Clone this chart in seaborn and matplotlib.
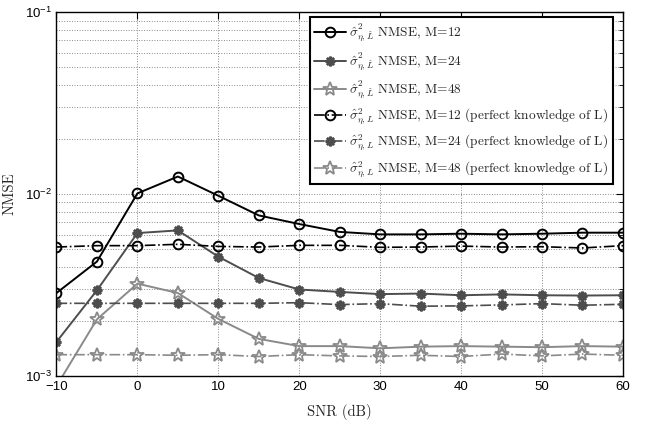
import matplotlib
matplotlib.use("Agg")
import matplotlib.pyplot as plt
import seaborn as sns
import pandas as pd
import numpy as np

snr = [-10, -5, 0, 5, 10, 15, 20, 25, 30, 35, 40, 45, 50, 55, 60]
m12 = [2.86e-3, 4.26e-3, 1.01e-2, 1.25e-2, 9.8e-3, 7.64e-3, 6.85e-3, 6.2e-3,
       6.01e-3, 6.01e-3, 6.06e-3, 6.01e-3, 6.06e-3, 6.14e-3, 6.14e-3]
m24 = [1.54e-3, 2.96e-3, 6.11e-3, 6.32e-3, 4.53e-3, 3.46e-3, 2.99e-3, 2.90e-3,
       2.82e-3, 2.84e-3, 2.78e-3, 2.81e-3, 2.78e-3, 2.77e-3, 2.78e-3]
m48 = [8.8e-4, 2.05e-3, 3.22e-3, 2.86e-3, 2.06e-3, 1.60e-3, 1.46e-3, 1.46e-3,
       1.42e-3, 1.45e-3, 1.46e-3, 1.45e-3, 1.44e-3, 1.46e-3, 1.45e-3]
m12p = [5.12e-3, 5.21e-3, 5.21e-3, 5.30e-3, 5.16e-3, 5.12e-3, 5.23e-3, 5.23e-3,
        5.10e-3, 5.12e-3, 5.18e-3, 5.12e-3, 5.14e-3, 5.06e-3, 5.21e-3]
m24p = [2.51e-3, 2.51e-3, 2.51e-3, 2.51e-3, 2.51e-3, 2.51e-3, 2.53e-3, 2.47e-3,
        2.50e-3, 2.42e-3, 2.43e-3, 2.46e-3, 2.50e-3, 2.45e-3, 2.48e-3]
m48p = [1.31e-3, 1.31e-3, 1.31e-3, 1.30e-3, 1.31e-3, 1.28e-3, 1.31e-3, 1.29e-3,
        1.28e-3, 1.30e-3, 1.28e-3, 1.32e-3, 1.29e-3, 1.32e-3, 1.30e-3]

labels = [
    r'$\hat{\sigma}^2_{\eta,\hat{L}}$ NMSE, M=12',
    r'$\hat{\sigma}^2_{\eta,\hat{L}}$ NMSE, M=24',
    r'$\hat{\sigma}^2_{\eta,\hat{L}}$ NMSE, M=48',
    r'$\hat{\sigma}^2_{\eta,L}$ NMSE, M=12 (perfect knowledge of L)',
    r'$\hat{\sigma}^2_{\eta,L}$ NMSE, M=24 (perfect knowledge of L)',
    r'$\hat{\sigma}^2_{\eta,L}$ NMSE, M=48 (perfect knowledge of L)',
]

sns.set_style("white")
plt.rcParams['font.family'] = ['Liberation Sans', 'DejaVu Sans']
plt.rcParams['mathtext.fontset'] = 'custom'
plt.rcParams['mathtext.rm'] = 'Liberation Sans'
plt.rcParams['mathtext.it'] = 'Liberation Sans:italic'
plt.rcParams['mathtext.bf'] = 'Liberation Sans:bold'

fig = plt.figure(figsize=(6.53, 4.25), dpi=100)
ax = fig.add_axes([0.0865, 0.1153, 0.954 - 0.0865, 0.971 - 0.1153])

asterisk = (8, 2, 0)
styles = [
    dict(color='black', marker='o', ls='-', ms=7, mew=1.4, lw=1.4),
    dict(color='#4d4d4d', marker=asterisk, ls='-', ms=7, mew=1.8, lw=1.4),
    dict(color='#8a8a8a', marker='*', ls='-', ms=10, mew=1.3, lw=1.4),
    dict(color='black', marker='o', ls='-.', ms=7, mew=1.4, lw=1.2),
    dict(color='#4d4d4d', marker=asterisk, ls='-.', ms=7, mew=1.8, lw=1.2),
    dict(color='#8a8a8a', marker='*', ls='-.', ms=10, mew=1.3, lw=1.2),
]
series = [m12, m24, m48, m12p, m24p, m48p]

for vals, lab, st in zip(series, labels, styles):
    df = pd.DataFrame({'SNR': snr, 'NMSE': vals})
    sns.lineplot(data=df, x='SNR', y='NMSE', ax=ax, label=lab,
                 color=st['color'], marker=st['marker'], linestyle=st['ls'],
                 markersize=st['ms'], markeredgewidth=st['mew'],
                 markerfacecolor='none', markeredgecolor=st['color'],
                 linewidth=st['lw'])

ax.set_yscale('log')
ax.set_xlim(-10, 60)
ax.set_ylim(1e-3, 1e-1)
ax.set_xticks(range(-10, 61, 10))
ax.grid(True, which='major', ls=':', color='#888888', lw=0.7)
ax.grid(True, which='minor', axis='y', ls=':', color='#888888', lw=0.7)
ax.tick_params(which='both', direction='in', top=True, right=True,
               labelsize=9.5, colors='black')
ax.tick_params(which='major', length=5)
ax.tick_params(which='minor', length=3)
for s in ax.spines.values():
    s.set_color('black')
    s.set_linewidth(1.0)

ax.set_xlabel('SNR (dB)', fontfamily='cmr10', fontsize=10.5, labelpad=8)
ax.set_ylabel('NMSE', fontfamily='cmr10', fontsize=10.5, labelpad=6)

leg = ax.legend(loc='upper right', bbox_to_anchor=(0.982, 0.986), fontsize=9.6,
                frameon=True, fancybox=False, framealpha=1, edgecolor='black',
                labelspacing=0.45, handlelength=2.35, handletextpad=0.25,
                borderpad=0.35, borderaxespad=0)
leg.get_frame().set_linewidth(1.5)
for t in leg.get_texts():
    t.set_fontfamily('cmr10')
    t.set_math_fontfamily('cm')

fig.savefig('out.png', dpi=100)
